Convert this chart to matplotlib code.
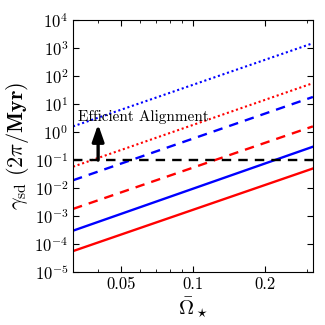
import numpy as np
import matplotlib
matplotlib.use("Agg")
import matplotlib.pyplot as plt
from matplotlib.ticker import NullFormatter

plt.rcParams['font.family'] = 'serif'
plt.rcParams['font.serif'] = ['cmr10', 'DejaVu Serif']
plt.rcParams['mathtext.fontset'] = 'cm'
plt.rcParams['axes.formatter.use_mathtext'] = True
plt.rcParams['axes.unicode_minus'] = False

# data (end points of each straight line)
omega = [0.0316, 0.316]
red_solid = [5.6e-5, 5.0e-2]
blue_solid = [3.0e-4, 0.30]
red_dashed = [1.8e-3, 1.6]
blue_dashed = [1.9e-2, 18.0]
red_dotted = [5.8e-2, 56.0]
blue_dotted = [1.6, 1500.0]
threshold = 0.1
arrow_x = 0.0402
arrow_top = 1.9
label_text = "Efficient Alignment"

fig = plt.figure(figsize=(3.25, 3.25), dpi=100)
ax = fig.add_axes([0.225, 0.163, 0.738, 0.775])

ax.plot(omega, red_solid, color='red', lw=1.7, ls='-')
ax.plot(omega, blue_solid, color='blue', lw=1.7, ls='-')
ax.plot(omega, red_dashed, color='red', lw=1.7, ls=(0, (4, 3)))
ax.plot(omega, blue_dashed, color='blue', lw=1.7, ls=(0, (4, 3)))
ax.plot(omega, red_dotted, color='red', lw=1.5, ls=(0, (1, 1.3)))
ax.plot(omega, blue_dotted, color='blue', lw=1.5, ls=(0, (1, 1.3)))
ax.axhline(threshold, color='black', lw=1.7, ls=(0, (4, 3)))

ax.annotate('', xy=(arrow_x, arrow_top), xytext=(arrow_x, threshold),
            arrowprops=dict(arrowstyle='-|>,head_width=0.35,head_length=1.0',
                            color='black', lw=2.4, shrinkA=0, shrinkB=0))
ax.text(0.0332, 3.6, label_text, fontsize=11, va='center', ha='left')

ax.set_xscale('log')
ax.set_yscale('log')
ax.set_xlim(10**-1.5, 10**-0.5)
ax.set_ylim(1e-5, 1e4)
ax.set_xticks([0.05, 0.1, 0.2])
ax.set_xticklabels(['0.05', '0.1', '0.2'])
ax.xaxis.set_minor_formatter(NullFormatter())
ax.set_yticks([10.0**k for k in range(-5, 5)])
ax.tick_params(which='both', direction='in', top=True, right=True, labelsize=12)
ax.tick_params(which='major', length=4)
ax.tick_params(which='minor', length=2)

ax.set_xlabel(r'$\bar{\Omega}_\star$', fontsize=15, labelpad=2)
ax.set_ylabel(r'$\gamma_{\rm sd}\ \mathbf{(2\pi/Myr)}$', fontsize=16, labelpad=2)

fig.savefig('out.png', dpi=100)
